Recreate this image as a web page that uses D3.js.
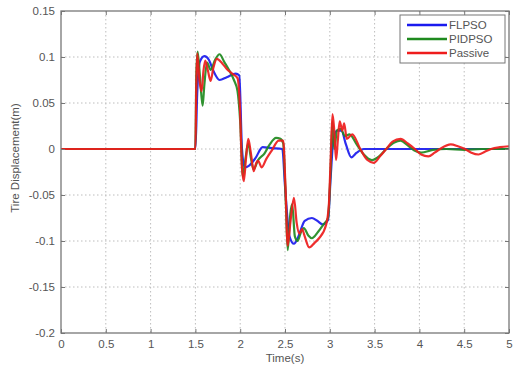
<!DOCTYPE html>
<html><head><meta charset="utf-8">
<script src="https://cdn.jsdelivr.net/npm/d3@7"></script>
<style>
body{margin:0;background:#fff;}
svg{display:block;font-family:"Liberation Sans",Arial,sans-serif;}
</style></head>
<body><svg id="c" width="513" height="366"></svg>
<script>
const xTicks = [0,0.5,1,1.5,2,2.5,3,3.5,4,4.5,5];
const xTickLabels = ["0","0.5","1","1.5","2","2.5","3","3.5","4","4.5","5"];
const yTicks = [-0.2,-0.15,-0.1,-0.05,0,0.05,0.1,0.15];
const yTickLabels = ["-0.2","-0.15","-0.1","-0.05","0","0.05","0.1","0.15"];
const seriesNames = ["FLPSO","PIDPSO","Passive"];
const seriesColors = ["#1a1aee","#1f8a1f","#ee1c1c"];

const flpsoT = [0,1.5,1.52,1.55,1.6,1.65,1.7,1.77,1.85,1.95,1.99,2.02,2.05,2.1,2.17,2.25,2.35,2.47,2.5,2.55,2.6,2.65,2.72,2.8,2.86,2.92,2.98,3.01,3.04,3.08,3.13,3.18,3.24,3.3,3.38,5];
const flpsoV = [0,0,0.06,0.095,0.101,0.097,0.085,0.075,0.078,0.082,0.08,0.0,-0.02,-0.018,-0.01,0.002,0.001,0.0,-0.04,-0.095,-0.103,-0.095,-0.078,-0.075,-0.078,-0.082,-0.077,-0.03,0.01,0.02,0.02,0.005,-0.009,-0.004,0.0,0];

const pidT = [0,1.5,1.51,1.525,1.55,1.58,1.6,1.63,1.67,1.72,1.77,1.82,1.88,1.93,1.97,2.0,2.03,2.06,2.09,2.12,2.15,2.2,2.27,2.33,2.4,2.45,2.48,2.51,2.53,2.56,2.58,2.61,2.64,2.68,2.71,2.76,2.8,2.87,2.93,2.98,3.01,3.03,3.05,3.08,3.12,3.17,3.22,3.3,3.38,3.47,3.55,3.63,3.72,3.79,3.87,3.95,4.02,4.15,4.3,4.5,4.7,5];
const pidV = [0,0,0.08,0.106,0.08,0.047,0.07,0.094,0.086,0.097,0.103,0.095,0.085,0.075,0.063,0.03,-0.03,-0.01,0.006,-0.01,-0.022,-0.012,-0.005,0.005,0.012,0.011,0.006,-0.06,-0.11,-0.07,-0.06,-0.095,-0.1,-0.09,-0.086,-0.094,-0.097,-0.09,-0.082,-0.075,-0.02,0.03,0.0,0.02,0.022,0.014,0.016,0.005,-0.006,-0.012,-0.008,0.0,0.007,0.009,0.004,-0.002,-0.004,-0.001,0.0,-0.001,0.0,0];

const passiveT = [0,1.5,1.51,1.52,1.545,1.57,1.59,1.61,1.64,1.67,1.7,1.74,1.8,1.85,1.91,1.97,1.995,2.02,2.04,2.065,2.09,2.12,2.15,2.18,2.2,2.24,2.29,2.35,2.43,2.48,2.505,2.53,2.56,2.6,2.63,2.66,2.69,2.72,2.77,2.83,2.88,2.96,2.99,3.01,3.03,3.05,3.07,3.09,3.11,3.14,3.16,3.19,3.25,3.34,3.42,3.49,3.56,3.63,3.7,3.79,3.87,3.95,4.02,4.1,4.17,4.23,4.35,4.43,4.51,4.58,4.66,4.73,4.8,4.9,5];
const passiveV = [0,0,0.07,0.104,0.075,0.063,0.085,0.096,0.085,0.074,0.088,0.098,0.093,0.087,0.082,0.077,0.05,-0.02,-0.035,-0.01,0.011,-0.005,-0.024,-0.015,-0.013,-0.02,-0.011,-0.002,0.009,0.009,-0.04,-0.105,-0.08,-0.053,-0.08,-0.092,-0.087,-0.095,-0.107,-0.102,-0.097,-0.082,-0.06,-0.01,0.038,0.02,-0.012,0.01,0.03,0.02,0.028,0.011,0.016,0.0,-0.012,-0.015,-0.008,0.0,0.008,0.011,0.006,0.0,-0.006,-0.008,-0.004,0.0,0.005,0.003,0.0,-0.004,-0.006,-0.003,0.0,0.002,0.003];

const svg = d3.select("#c");
const L=61, R=509, T=11, B=333;
const x = d3.scaleLinear().domain([0,5]).range([L,R]);
const y = d3.scaleLinear().domain([-0.2,0.15]).range([B,T]);
const txt = "#555";

// grid
const g = svg.append("g");
g.selectAll("line.vx").data(xTicks.slice(1,-1)).join("line")
  .attr("x1",d=>x(d)).attr("x2",d=>x(d)).attr("y1",T).attr("y2",B)
  .attr("stroke","#bdbdbd").attr("stroke-width",1).attr("stroke-dasharray","1.5,2.5");
g.selectAll("line.hy").data(yTicks.slice(1,-1)).join("line")
  .attr("y1",d=>y(d)).attr("y2",d=>y(d)).attr("x1",L).attr("x2",R)
  .attr("stroke","#bdbdbd").attr("stroke-width",1).attr("stroke-dasharray","1.5,2.5");

// lines
const sets = [[flpsoT,flpsoV],[pidT,pidV],[passiveT,passiveV]];
const line = d3.line().x(d=>x(d[0])).y(d=>y(d[1])).curve(d3.curveMonotoneX);
sets.forEach((s,i)=>{
  const pts = s[0].map((t,k)=>[t,s[1][k]]);
  svg.append("path").datum(pts).attr("d",line).attr("fill","none")
    .attr("stroke",seriesColors[i]).attr("stroke-width",2.2).attr("stroke-linejoin","round").attr("opacity",0.92);
});

// axes (ticks inward on all sides)
const ax = svg.append("g");
ax.append("g").attr("transform",`translate(0,${B})`)
  .call(d3.axisBottom(x).tickValues(xTicks).tickFormat((d,i)=>xTickLabels[i]).tickSizeInner(-4).tickSizeOuter(0).tickPadding(7));
ax.append("g").attr("transform",`translate(0,${T})`)
  .call(d3.axisTop(x).tickValues(xTicks).tickFormat("").tickSizeInner(-4).tickSizeOuter(0));
ax.append("g").attr("transform",`translate(${L},0)`)
  .call(d3.axisLeft(y).tickValues(yTicks).tickFormat((d,i)=>yTickLabels[i]).tickSizeInner(-4).tickSizeOuter(0).tickPadding(6));
ax.append("g").attr("transform",`translate(${R},0)`)
  .call(d3.axisRight(y).tickValues(yTicks).tickFormat("").tickSizeInner(-4).tickSizeOuter(0));
ax.selectAll(".domain").remove();
ax.selectAll("line").attr("stroke","#777");
ax.selectAll("text").attr("fill",txt).attr("font-size","11.5px").attr("font-family","Liberation Sans, Arial, sans-serif");
svg.append("rect").attr("x",L).attr("y",T).attr("width",R-L).attr("height",B-T)
  .attr("fill","none").attr("stroke","#777").attr("stroke-width",1.3);

// labels
svg.append("text").attr("x",285).attr("y",362).attr("text-anchor","middle")
  .attr("font-size","11.5px").attr("fill",txt).text("Time(s)");
svg.append("text").attr("transform","translate(19,158) rotate(-90)").attr("text-anchor","middle")
  .attr("font-size","11.5px").attr("fill",txt).text("Tire Displacement(m)");

// legend
const lg = svg.append("g");
lg.append("rect").attr("x",400).attr("y",15).attr("width",105).attr("height",48)
  .attr("fill","#fff").attr("stroke","#777").attr("stroke-width",1);
const rowsY = [25,39,53];
seriesNames.forEach((n,i)=>{
  lg.append("line").attr("x1",407).attr("x2",447).attr("y1",rowsY[i]).attr("y2",rowsY[i])
    .attr("stroke",seriesColors[i]).attr("stroke-width",2.5);
  lg.append("text").attr("x",449).attr("y",rowsY[i]+4).attr("font-size","11.5px").attr("fill",txt).text(n);
});
</script></body></html>
